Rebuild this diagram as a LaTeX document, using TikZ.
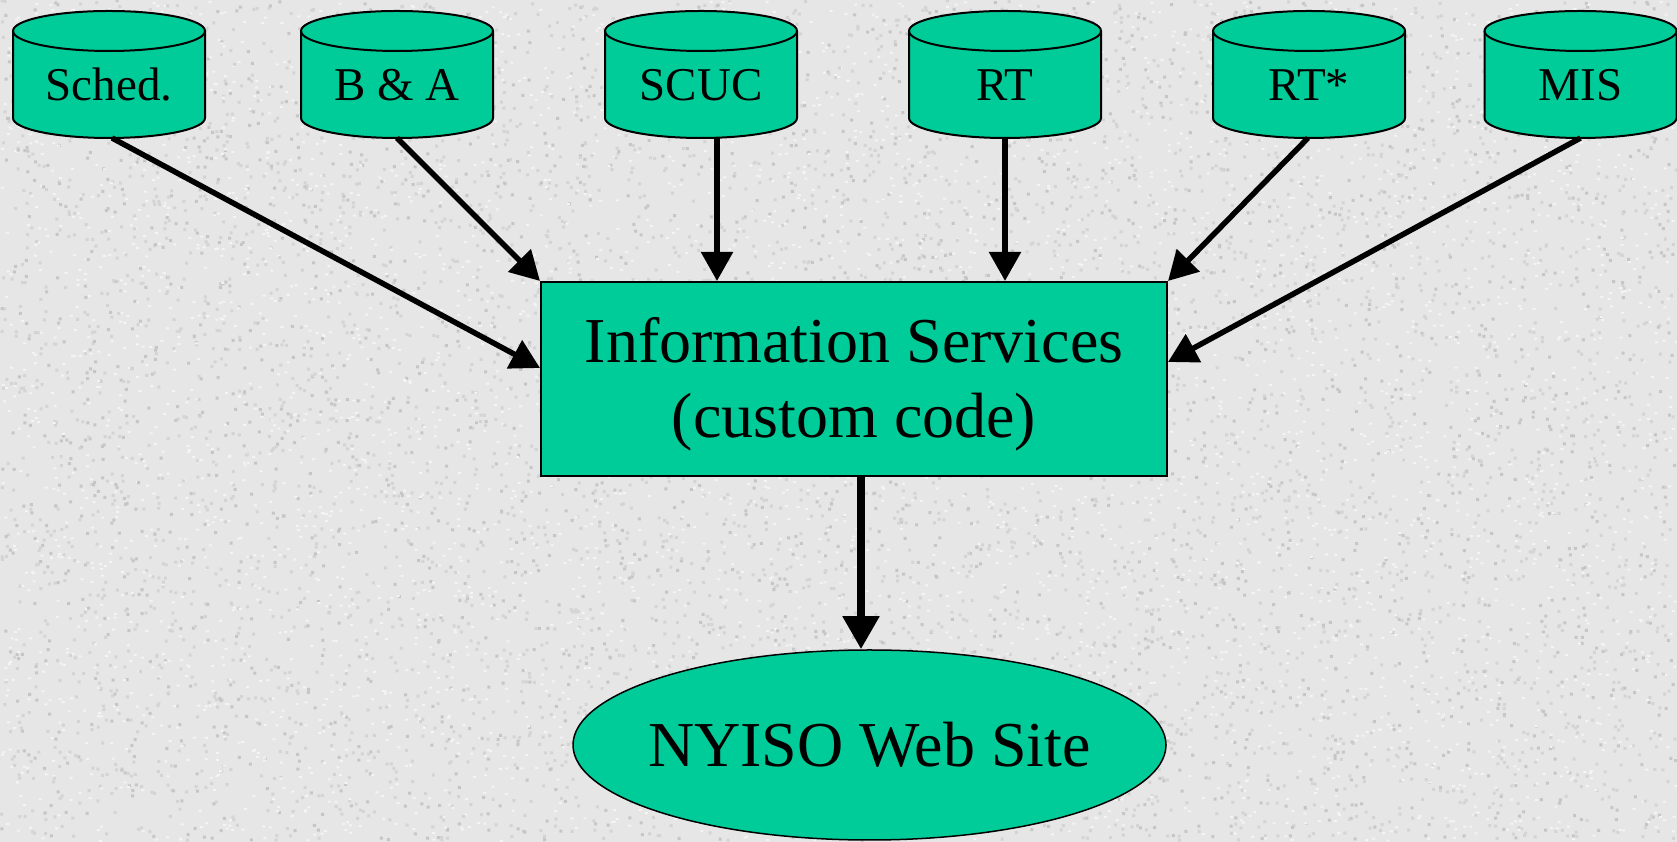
\documentclass[tikz,border=0pt]{standalone}
\usepackage{fontspec}
\setmainfont{Liberation Serif}
\usetikzlibrary{arrows.meta,shapes.geometric}
\definecolor{tealfill}{HTML}{00CC99}
\definecolor{bggray}{HTML}{E6E6E6}
\definecolor{speckdark}{HTML}{C6C6C6}
\definecolor{speckmid}{HTML}{D4D4D4}
\definecolor{specklight}{HTML}{F4F4F4}
\pgfdeclarelayer{bgA}
\pgfdeclarelayer{bgB}
\pgfsetlayers{bgA,bgB,main}
\begin{document}
\begin{tikzpicture}[x=1pt,y=1pt,
  cylnode/.style={rectangle, minimum width=192pt, minimum height=127pt,
    inner sep=0pt, outer sep=0pt, font=\fontsize{47}{56}\selectfont,
    text height=60pt, text depth=7pt},
  cylline/.style={draw=black, line width=2pt, fill=tealfill, line join=round},
  procbox/.style={rectangle, draw=black, line width=2pt, fill=tealfill,
    minimum width=626pt, minimum height=194pt, inner sep=0pt, align=center,
    font=\fontsize{64}{75}\selectfont, text height=132pt, text depth=14pt},
  webell/.style={ellipse, draw=black, line width=1.5pt, fill=tealfill,
    minimum width=593pt, minimum height=190pt, inner sep=0pt,
    font=\fontsize{64}{75}\selectfont},
  arr/.style={line width=5.5pt, -{Triangle[width=31pt,length=29pt]}},
  bigarr/.style={line width=8pt, -{Triangle[width=35pt,length=33pt]}}
]
\useasboundingbox (0,0) rectangle (1677,842);
\begin{pgfonlayer}{bgA}
  \fill[bggray] (0,0) rectangle (1677,842);
  \pgfmathsetseed{4242}
  \foreach \j in {1,...,10}{
    \fill[speckmid] \foreach \i in {1,...,500} {(rnd*1675, rnd*840) rectangle ++(3,3)};
    \fill[speckdark] \foreach \i in {1,...,250} {(rnd*1675, rnd*840) rectangle ++(3,3)};
    \fill[specklight] \foreach \i in {1,...,450} {(rnd*1675, rnd*840) rectangle ++(3,2)};
  }
\end{pgfonlayer}

\node[cylnode] (sched) at (109,767.5) {Sched.};
\node[cylnode] (ba)    at (397,767.5) {B \& A};
\node[cylnode] (scuc)  at (701,767.5) {SCUC};
\node[cylnode] (rt)    at (1005,767.5) {RT};
\node[cylnode] (rts)   at (1309,767.5) {RT*};
\node[cylnode] (mis)   at (1580.5,767.5) {MIS};

\begin{pgfonlayer}{bgB}
\foreach \n in {sched,ba,scuc,rt,rts,mis}{
  \path[cylline] ([yshift=-20pt]\n.north west) -- ([yshift=20pt]\n.south west)
    arc[start angle=180,end angle=360,x radius=96pt,y radius=20pt]
    -- ([yshift=-20pt]\n.north east)
    arc[start angle=0,end angle=180,x radius=96pt,y radius=20pt] -- cycle;
  \draw[line width=2pt] ([yshift=-20pt]\n.north west)
    arc[start angle=180,end angle=360,x radius=96pt,y radius=20pt];
}
\end{pgfonlayer}

\node[procbox] (info) at (854,463) {Information Services\\(custom code)};
\node[webell] (web) at (869.5,97) {\makebox[0pt]{NYISO Web Site}};

\draw[arr] ([xshift=3pt]sched.south) -- ([yshift=11pt]info.west);
\draw[arr] (ba.south) -- (info.north west);
\draw[arr] ([xshift=16pt]scuc.south) -- ([xshift=16pt]scuc.south |- info.north);
\draw[arr] (rt.south) -- (rt.south |- info.north);
\draw[arr] ([xshift=-1pt]rts.south) -- (info.north east);
\draw[arr] (mis.south) -- ([yshift=17pt]info.east);
\draw[bigarr] ([xshift=7pt]info.south) -- ([xshift=7pt]info.south |- web.north);
\end{tikzpicture}
\end{document}
